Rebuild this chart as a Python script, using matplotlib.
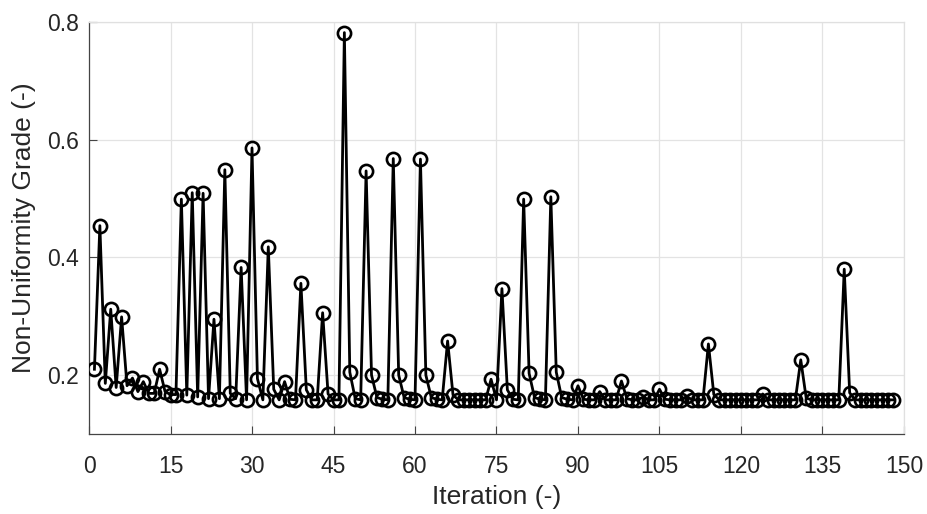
import matplotlib
matplotlib.use("Agg")
import matplotlib.pyplot as plt

iterations = list(range(1, 149))
grade = [
    0.210, 0.454, 0.186, 0.312, 0.179, 0.299, 0.182, 0.195, 0.172, 0.189,   # 1-10
    0.169, 0.169, 0.210, 0.172, 0.167, 0.167, 0.499, 0.166, 0.510, 0.163,   # 11-20
    0.509, 0.160, 0.295, 0.160, 0.549, 0.169, 0.160, 0.383, 0.158, 0.586,   # 21-30
    0.194, 0.158, 0.418, 0.176, 0.158, 0.189, 0.159, 0.158, 0.356, 0.175,   # 31-40
    0.158, 0.158, 0.306, 0.168, 0.158, 0.158, 0.782, 0.205, 0.160, 0.158,   # 41-50
    0.547, 0.200, 0.162, 0.159, 0.158, 0.568, 0.200, 0.162, 0.159, 0.158,   # 51-60
    0.567, 0.200, 0.162, 0.159, 0.158, 0.258, 0.166, 0.158, 0.158, 0.158,   # 61-70
    0.158, 0.158, 0.158, 0.193, 0.158, 0.347, 0.175, 0.159, 0.158, 0.499,   # 71-80
    0.203, 0.162, 0.159, 0.158, 0.503, 0.205, 0.162, 0.159, 0.158, 0.182,   # 81-90
    0.159, 0.158, 0.158, 0.172, 0.158, 0.158, 0.158, 0.190, 0.160, 0.158,   # 91-100
    0.158, 0.163, 0.158, 0.158, 0.176, 0.159, 0.158, 0.158, 0.158, 0.164,   # 101-110
    0.158, 0.158, 0.158, 0.253, 0.167, 0.158, 0.158, 0.158, 0.158, 0.158,   # 111-120
    0.158, 0.158, 0.158, 0.168, 0.158, 0.158, 0.158, 0.158, 0.158, 0.158,   # 121-130
    0.226, 0.161, 0.158, 0.158, 0.158, 0.158, 0.158, 0.158, 0.380, 0.170,   # 131-140
    0.158, 0.158, 0.158, 0.158, 0.158, 0.158, 0.158, 0.158,                 # 141-148
]

x_ticks = [0, 15, 30, 45, 60, 75, 90, 105, 120, 135, 150]
y_ticks = [0.2, 0.4, 0.6, 0.8]

plt.rcParams["font.family"] = ["Liberation Sans", "DejaVu Sans"]

text_c = "#262626"
fig = plt.figure(figsize=(9.28, 5.14), dpi=100)
ax = fig.add_axes([89 / 928, 1 - 434 / 514, (904 - 89) / 928, (434 - 22) / 514])

ax.plot(iterations, grade, color="black", linewidth=2.0, marker="o",
        markersize=9.5, markerfacecolor="none", markeredgecolor="black",
        markeredgewidth=1.9, zorder=3)

ax.set_xlim(0, 150)
ax.set_ylim(0.1, 0.8)
ax.set_xticks(x_ticks)
ax.set_xticklabels([str(t) for t in x_ticks])
ax.set_yticks(y_ticks)
ax.set_yticklabels([f"{t:.1f}" for t in y_ticks])

ax.grid(True, color="#e3e3e3", linewidth=0.9, zorder=0)
ax.set_axisbelow(True)
ax.tick_params(direction="in", length=6, width=0.8, colors="#444444",
               labelcolor=text_c, labelsize=16.5)
ax.tick_params(axis="y", pad=7)
ax.tick_params(axis="x", pad=15)
for s in ["left", "bottom"]:
    ax.spines[s].set_color("#444444")
    ax.spines[s].set_linewidth(0.9)
for s in ["top", "right"]:
    ax.spines[s].set_color("#e0e0e0")
    ax.spines[s].set_linewidth(0.9)

ax.set_xlabel("Iteration (-)", fontsize=19, color=text_c, labelpad=5)
ax.set_ylabel("Non-Uniformity Grade (-)", fontsize=19, color=text_c, labelpad=8)

fig.savefig("out.png", dpi=100)
